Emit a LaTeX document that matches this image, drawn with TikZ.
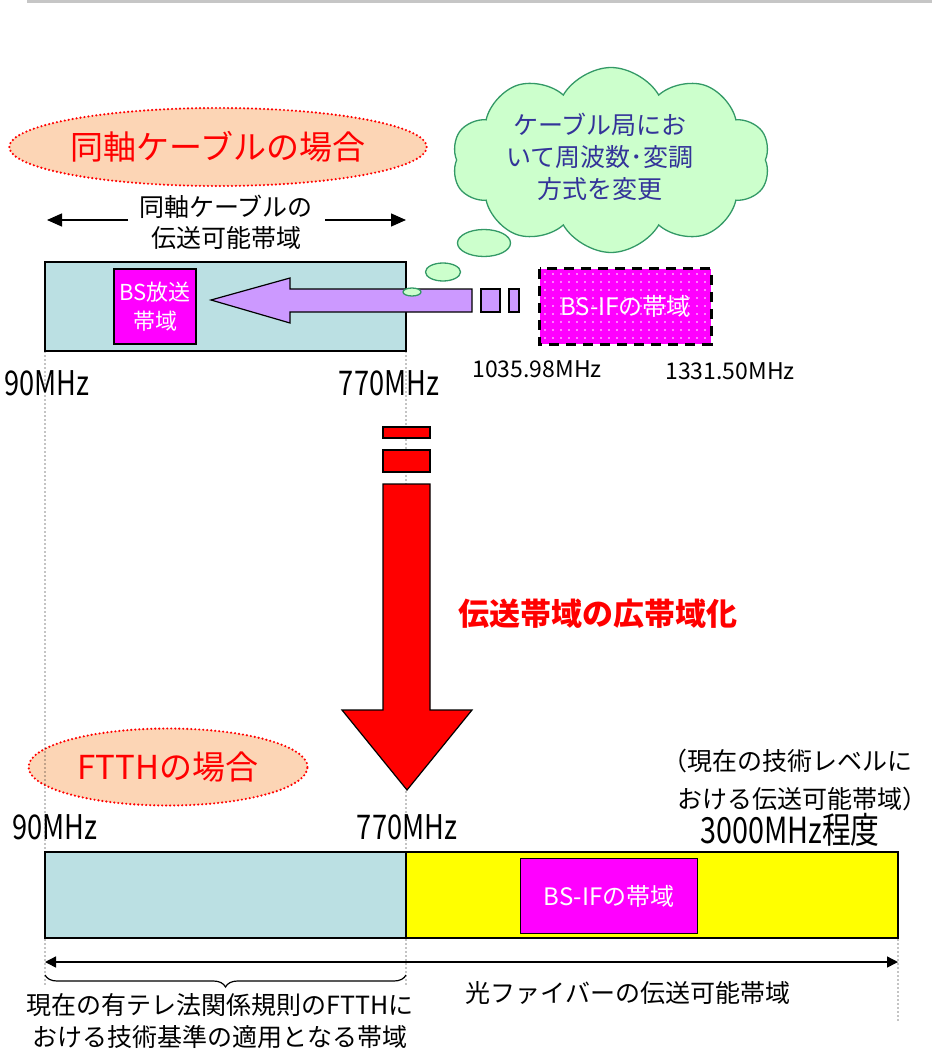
\documentclass[tikz,border=0pt]{standalone}
\usepackage{fontspec}
\setmainfont{Noto Sans CJK JP}
\newfontfamily\narrowjp[FakeStretch=0.8]{Noto Sans CJK JP}
\usetikzlibrary{shapes.symbols,shapes.geometric,decorations.pathreplacing,arrows.meta}
\definecolor{bandblue}{HTML}{BBE0E3}
\definecolor{bsmag}{HTML}{FF00FF}
\definecolor{arrowpurple}{HTML}{CC99FF}
\definecolor{cloudfill}{HTML}{CCFFCC}
\definecolor{cloudline}{HTML}{339966}
\definecolor{cloudtextc}{HTML}{333399}
\definecolor{peach}{HTML}{FCD5B5}
\definecolor{bandyellow}{HTML}{FFFF00}
\definecolor{brightred}{HTML}{FF0000}
\tikzset{
 band/.style={draw=black, line width=1.2pt, anchor=north west, inner sep=0, outer sep=0},
 bsbox/.style={draw=black, line width=1.2pt, fill=bsmag, text=white, align=center, inner sep=0, font=\fontsize{22}{29}\selectfont},
 titleell/.style={ellipse, draw=brightred, fill=peach, line width=2.4pt, dash pattern=on 0pt off 4pt, line cap=round, text=brightred, inner sep=0},
 jplabel/.style={font=\fontsize{25}{31}\selectfont, align=center, inner sep=0},
 freqbig/.style={font=\narrowjp\fontsize{34}{34}\selectfont, inner sep=0},
 freqsmall/.style={font=\fontsize{23}{23}\selectfont, inner sep=0},
 guide/.style={line width=1.4pt, dash pattern=on 0pt off 4pt, line cap=round},
 bubble/.style={ellipse, draw=cloudline, fill=cloudfill, line width=1.3pt, inner sep=0},
 shapeline/.style={draw=black, line width=1.2pt, line join=miter},
 dimtop/.style={line width=1.4pt, -{Triangle[length=15pt,width=13pt]}},
 dimbot/.style={line width=1.4pt, {Triangle[length=11pt,width=11pt]}-{Triangle[length=11pt,width=11pt]}},
}
\begin{document}
\begin{tikzpicture}[x=1pt,y=-1pt]
\useasboundingbox (0,0) rectangle (932,1054);
% top gray bar
\fill[gray!45] (27,0) rectangle (932,3.5);

% title ellipses
\node[titleell, minimum width=410, minimum height=78, font=\fontsize{33}{33}\selectfont] (title1) at (218,147) {同軸ケーブルの場合};
\node[titleell, minimum width=279, minimum height=77, font=\fontsize{33}{33}\selectfont] (title2) at (168,767) {FTTHの場合};

% coax width label with arrows
\node[jplabel] (coaxlbl) at (226,222) {同軸ケーブルの\\伝送可能帯域};
\coordinate (la1) at (128,220); \coordinate (la2) at (47,220);
\coordinate (ra1) at (325,220); \coordinate (ra2) at (406,220);
\draw[dimtop] (la1) -- (la2);
\draw[dimtop] (ra1) -- (ra2);

% frequency labels
\node[freqbig] (f90a) at (47,383) {90MHz};
\node[freqbig] (f770a) at (389,383) {770MHz};
\node[freqsmall] (f1035) at (537,369) {1035.98MHz};
\node[freqsmall] (f1331) at (730,371) {1331.50MHz};
\node[freqbig] (f90b) at (55,827) {90MHz};
\node[freqbig] (f770b) at (407,827) {770MHz};
\node[jplabel] (tech1) at (787,761) {（現在の技術レベルに};
\node[jplabel] (tech2) at (802,799) {おける伝送可能帯域）};
\node[font=\narrowjp\fontsize{36}{36}\selectfont, inner sep=0] (f3000) at (790,830) {3000MHz程度};

% dotted guide lines
\coordinate (g1a) at (45,352); \coordinate (g1b) at (45,987);
\coordinate (g2a) at (406,352); \coordinate (g2b) at (406,987);
\coordinate (g3a) at (898,940); \coordinate (g3b) at (898,1020);
\draw[guide] (g1a) -- (g1b);
\draw[guide] (g2a) -- (g2b);
\draw[guide] (g3a) -- (g3b);

% coax band
\node[band, fill=bandblue, minimum width=361, minimum height=89] (coax) at (45,262) {};
\node[bsbox, minimum width=82, minimum height=75] (bs1) at (155,306.5) {BS放送\\帯域};

% BS-IF dotted box
\node[fill=bsmag, minimum width=171, minimum height=75, inner sep=0] (bsif1) at (625.5,306.5) {};
\foreach \i in {0,...,20} {
  \foreach \j in {0,...,8} {
    \fill[white] (545+8*\i,274+8*\j) circle (0.9);
  }
}
\draw[line width=3pt, dash pattern=on 10pt off 7pt] (bsif1.north west) rectangle (bsif1.south east);
\node[text=white, font=\fontsize{24}{24}\selectfont, inner sep=0] (bsif1t) at (bsif1.center) {BS-IFの帯域};

% purple arrow
\draw[shapeline, fill=arrowpurple] (211,300) -- (290,278) -- (290,289) -- (472,289) -- (472,312) -- (290,312) -- (290,323) -- cycle;
\draw[shapeline, fill=arrowpurple] (481,289) rectangle (500,312);
\draw[shapeline, fill=arrowpurple] (509,289) rectangle (519,312);

% cloud and thought bubbles
\node[cloud, cloud puffs=10, cloud puff arc=120, aspect=1.9, draw=cloudline, fill=cloudfill, line width=1.3pt, minimum width=318, minimum height=185, inner sep=0] (cloud) at (611,160) {};
\node[font=\fontsize{25}{32}\selectfont, text=cloudtextc, align=center, inner sep=0] (cloudtxt) at (600,157) {ケーブル局にお\\いて周波数･変調\\方式を変更};
\node[bubble, minimum width=53, minimum height=27] (b1) at (484,243) {};
\node[bubble, minimum width=35, minimum height=18] (b2) at (443,272) {};
\node[bubble, minimum width=18, minimum height=8] (b3) at (412,292) {};

% red arrow
\draw[shapeline, fill=brightred] (383,427) rectangle (430,438);
\draw[shapeline, fill=brightred] (383,450) rectangle (430,472);
\draw[shapeline, fill=brightred] (383,484) -- (383,710) -- (342,710) -- (407,790) -- (472,710) -- (430,710) -- (430,484) -- cycle;
\node[text=brightred, font=\bfseries\fontsize{31}{31}\selectfont, inner sep=0] (widen) at (598,614) {伝送帯域の広帯域化};

% FTTH bands
\node[band, fill=bandblue, minimum width=361, minimum height=86] (ftthblue) at (45,852) {};
\node[band, fill=bandyellow, minimum width=492, minimum height=86] (ftthyel) at (406,852) {};
\node[bsbox, font=\fontsize{24}{24}\selectfont, minimum width=177, minimum height=75] (bsif2) at (609,896) {BS-IFの帯域};

% fiber span arrow and brace
\coordinate (da1) at (45,962); \coordinate (da2) at (898,962);
\draw[dimbot] (da1) -- (da2);
\coordinate (br1) at (45,975); \coordinate (br2) at (406,975);
\draw[line width=1.2pt, decorate, decoration={brace, mirror, amplitude=12pt}] (br1) -- (br2);
\node[jplabel] (fiberlbl) at (628,993) {光ファイバーの伝送可能帯域};
\node[jplabel, font=\fontsize{25}{32}\selectfont] (rulelbl) at (220,1021) {現在の有テレ法関係規則のFTTHに\\おける技術基準の適用となる帯域};
\end{tikzpicture}
\end{document}
